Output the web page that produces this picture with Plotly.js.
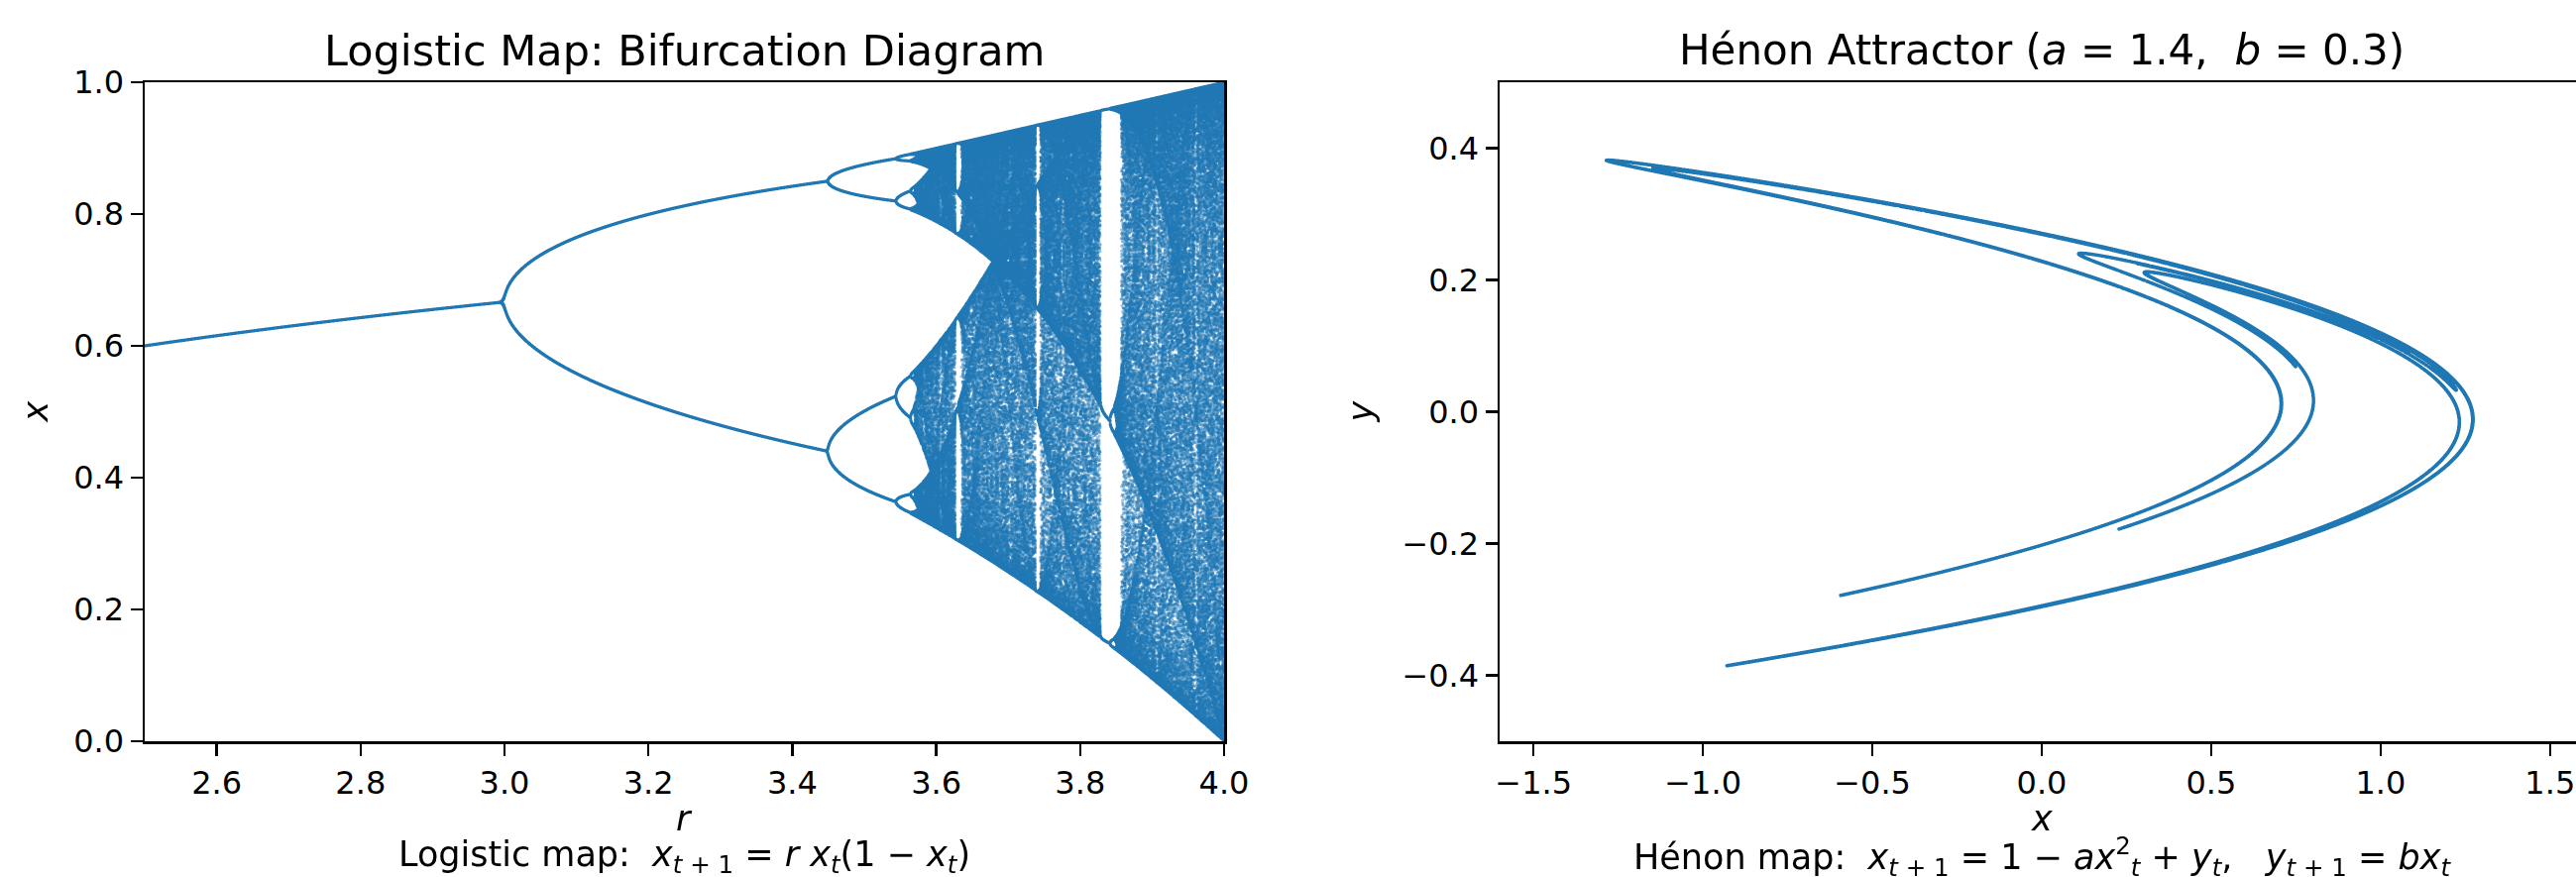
<!DOCTYPE html>
<html>
<head>
<meta charset="utf-8">
<script src="https://cdn.plot.ly/plotly-3.0.1.min.js"></script>
<style>html,body{margin:0;padding:0;overflow:hidden;background:#ffffff}</style>
</head>
<body>
<div id="chart" style="width:2615px;height:885px"></div>
<script>
const rRange = [2.5, 4.0];            // logistic-map r sweep
const rCount = 3000;                  // number of r samples
const logisticTransient = 600;        // iterations discarded
const logisticKeep = 200;             // iterations plotted per r
const logisticStart = [0.1];          // x0
const henonAB = [1.4, 0.3];           // a, b (from the title)
const henonStart = [0.0, 0.0];        // (x0, y0)
const henonTransient = 100;
const henonKeep = 50000;

const xTicksLeft = [2.6, 2.8, 3.0, 3.2, 3.4, 3.6, 3.8, 4.0];
const yTicksLeft = [0.0, 0.2, 0.4, 0.6, 0.8, 1.0];
const xTicksRight = [-1.5, -1.0, -0.5, 0.0, 0.5, 1.0, 1.5];
const yTicksRight = [-0.4, -0.2, 0.0, 0.2, 0.4];
const xRangeRight = [-1.6, 1.6];
const yRangeRight = [-0.5, 0.5];

// ---- Orbits of the two maps named in the chart ----
const bifR = [], bifX = [];
for (let i = 0; i < rCount; i++) {
  const r = rRange[0] + (rRange[1] - rRange[0]) * i / (rCount - 1);
  let x = logisticStart[0];
  for (let k = 0; k < logisticTransient; k++) x = r * x * (1 - x);
  for (let k = 0; k < logisticKeep; k++) { x = r * x * (1 - x); bifR.push(r); bifX.push(x); }
}
const henX = [], henY = [];
{
  let x = henonStart[0], y = henonStart[1];
  const a = henonAB[0], b = henonAB[1];
  for (let k = 0; k < henonTransient + henonKeep; k++) {
    const nx = 1 - a * x * x + y, ny = b * x;
    x = nx; y = ny;
    if (k >= henonTransient) { henX.push(x); henY.push(y); }
  }
}

// ---- Layout geometry (pixels) ----
const W = 2615, H = 885;
const L1 = 146, R1 = 1235, L2 = 1513, R2 = 2607, T = 83, B = 748;
const px = v => v / W, py = v => 1 - v / H;
const FONT = 'DejaVu Sans';
const blue = '#1f77b4';

function axisStyle(extra) {
  return Object.assign({
    showgrid: false, zeroline: false, showline: true, mirror: true,
    linecolor: '#000', linewidth: 2.5, ticks: 'outside', ticklen: 12,
    tickwidth: 2.5, tickcolor: '#000', tickformat: '.1f',
    tickfont: {family: FONT, size: 32, color: '#000'}, fixedrange: true
  }, extra);
}

const traces = [
  {type: 'scattergl', mode: 'markers', x: bifR, y: bifX, xaxis: 'x', yaxis: 'y',
   marker: {size: 3.3, color: blue, opacity: 0.42, line: {width: 0}}, hoverinfo: 'skip'},
  {type: 'scattergl', mode: 'markers', x: henX, y: henY, xaxis: 'x2', yaxis: 'y2',
   marker: {size: 3.4, color: blue, opacity: 1, line: {width: 0}}, hoverinfo: 'skip'}
];

function ann(text, x, y, size, extra) {
  return Object.assign({text, x: px(x), y: py(y), xref: 'paper', yref: 'paper',
    showarrow: false, xanchor: 'center', yanchor: 'middle',
    font: {family: FONT, size, color: '#000'}}, extra || {});
}

const C1 = (L1 + R1) / 2, C2 = (L2 + R2) / 2, M = (T + B) / 2;
const layout = {
  width: W, height: H, margin: {l: 0, r: 0, t: 0, b: 0},
  paper_bgcolor: '#fff', plot_bgcolor: '#fff', showlegend: false,
  xaxis: axisStyle({domain: [px(L1), px(R1)], range: rRange, tickvals: xTicksLeft, anchor: 'y'}),
  yaxis: axisStyle({domain: [py(B), py(T)], range: [0, 1], tickvals: yTicksLeft, anchor: 'x'}),
  xaxis2: axisStyle({domain: [px(L2), px(R2)], range: xRangeRight, tickvals: xTicksRight, anchor: 'y2'}),
  yaxis2: axisStyle({domain: [py(B), py(T)], range: yRangeRight, tickvals: yTicksRight, anchor: 'x2'}),
  annotations: [
    ann('Logistic Map: Bifurcation Diagram', C1, 51, 43),
    ann('Hénon Attractor (<i>a</i> = 1.4,  <i>b</i> = 0.3)', C2, 51, 42),
    ann('<i>r</i>', C1, 826, 35),
    ann('<i>x</i>', C2, 826, 35),
    ann('<i>x</i>', 35, M, 35, {textangle: -90}),
    ann('<i>y</i>', 1372, M, 35, {textangle: -90}),
    ann('Logistic map:  <i>x</i><sub><i>t</i> + 1</sub> = <i>r</i> <i>x</i><sub><i>t</i></sub>(1 − <i>x</i><sub><i>t</i></sub>)', C1, 864, 35),
    ann('Hénon map:  <i>x</i><sub><i>t</i> + 1</sub> = 1 − <i>a</i><i>x</i><sup>2</sup><sub><i>t</i></sub> + <i>y</i><sub><i>t</i></sub>,   <i>y</i><sub><i>t</i> + 1</sub> = <i>b</i><i>x</i><sub><i>t</i></sub>', C2, 864, 35)
  ]
};

Plotly.newPlot('chart', traces, layout, {staticPlot: true, displayModeBar: false});
</script>
</body>
</html>
